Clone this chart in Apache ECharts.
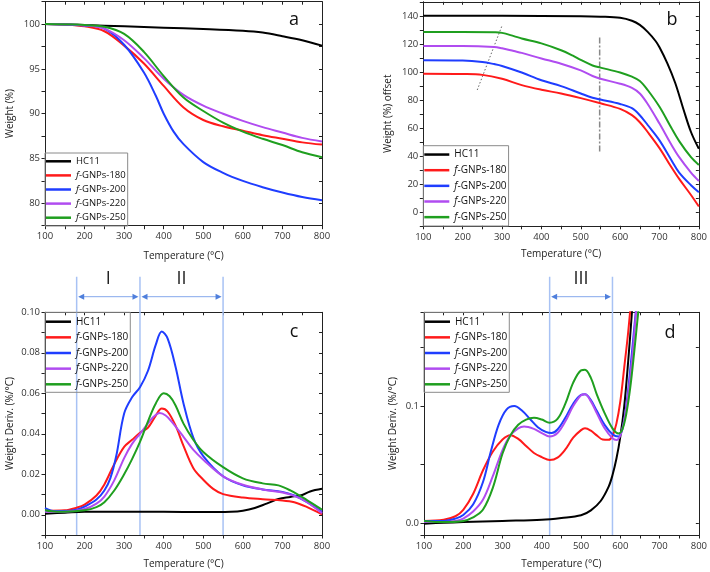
<!DOCTYPE html>
<html>
<head>
<meta charset="utf-8">
<script src="https://cdn.jsdelivr.net/npm/echarts@6/dist/echarts.min.js"></script>
<style>html,body{margin:0;padding:0;background:#fff;}#c{width:710px;height:572px;}</style>
</head>
<body>
<div id="c"></div>
<script>
// ---------- data ----------
const seriesNames = ['HC11', 'f-GNPs-180', 'f-GNPs-200', 'f-GNPs-220', 'f-GNPs-250'];
const panelLetters = ['a', 'b', 'c', 'd'];
const regionLabels = ['I', 'II', 'III'];
const regionBoundsC = [180, 340, 550];
const regionBoundsD = [420, 580];

// panel a: TGA weight (%)
const tgaHC11 = [[100,100],[200,99.9],[300,99.75],[400,99.6],[500,99.45],[600,99.25],[650,99.05],[700,98.65],[750,98.2],[800,97.6]];
const tga180 = [[100,100],[150,99.95],[200,99.75],[250,99.2],[300,97.6],[350,95.6],[400,93.1],[450,90.7],[500,89.3],[550,88.6],[600,88.1],[650,87.6],[700,87.2],[750,86.8],[800,86.55]];
const tga200 = [[100,100],[150,99.95],[200,99.85],[250,99.5],[300,97.7],[350,94.6],[380,92.0],[400,90.0],[425,88.0],[450,86.6],[500,84.6],[550,83.4],[600,82.5],[650,81.8],[700,81.2],[750,80.7],[800,80.35]];
const tga220 = [[100,100],[200,99.85],[250,99.5],[300,98.2],[350,96.2],[400,93.9],[450,92.1],[500,90.9],[550,90.0],[600,89.2],[650,88.5],[700,87.9],[750,87.3],[800,86.9]];
const tga250 = [[100,100],[200,99.9],[250,99.7],[300,98.9],[350,96.9],[400,94.2],[450,91.8],[500,90.3],[550,89.0],[600,88.0],[650,87.2],[700,86.5],[750,85.7],[800,85.15]];

// panel b: weight (%) offset
const offHC11 = [[100,140],[300,140],[500,139.7],[550,139.4],[600,138.6],[630,136.5],[650,133.5],[670,128.5],[690,122],[700,117.5],[720,106],[740,92],[760,74],[780,57],[800,45]];
const off180 = [[100,98.6],[200,98.4],[250,97.8],[300,95],[350,90.5],[400,87.2],[450,84.5],[500,81.2],[550,77.5],[600,73.5],[630,69],[650,64],[670,57],[700,45.5],[730,32],[750,23.5],[780,12],[800,3.8]];
const off200 = [[100,108.2],[200,108],[250,107],[280,105.5],[300,104.2],[350,99.5],[400,94],[450,89.8],[500,84.5],[530,81.5],[550,80.2],[600,77],[630,74],[650,69],[670,62],[700,51],[730,37],[750,28],[780,19],[800,14]];
const off220 = [[100,118.5],[200,118.5],[280,117.8],[300,116.8],[330,114.8],[350,113.5],[400,109.5],[450,105.8],[500,101],[530,97],[550,95],[600,91.5],[630,88.5],[650,84.5],[670,77],[700,63],[730,48],[750,39],[780,28],[800,22]];
const off250 = [[100,128.5],[200,128.5],[280,128.2],[300,127.8],[330,125.5],[350,123.8],[400,120.3],[450,115.4],[480,111.5],[500,108.5],[530,104.5],[550,103],[600,99.5],[630,96.5],[650,93.5],[670,87],[700,75],[730,60],[750,50.5],[780,39],[800,33.5]];
const guideDotted = [[237,87],[300,133]];
const guideDashDot = [[548,43],[548,125]];

// panel c: derivative (%/°C)
const dtgHC11 = [[100,0.0005],[150,0.001],[200,0.0015],[300,0.0015],[400,0.0015],[500,0.0013],[570,0.0015],[600,0.002],[630,0.0033],[660,0.0055],[690,0.0078],[720,0.0088],[750,0.0098],[770,0.0115],[800,0.0128]];
const dtg180 = [[100,0.002],[150,0.0022],[180,0.0035],[200,0.005],[230,0.0095],[250,0.015],[275,0.025],[300,0.0335],[320,0.037],[340,0.0405],[360,0.043],[380,0.049],[395,0.0525],[410,0.051],[430,0.044],[450,0.034],[475,0.023],[500,0.0173],[525,0.0128],[550,0.0102],[600,0.0085],[650,0.0077],[700,0.0071],[730,0.0062],[760,0.004],[800,0.0002]];
const dtg200 = [[100,0.0033],[125,0.0018],[150,0.0018],[180,0.0025],[200,0.004],[230,0.0075],[250,0.012],[265,0.018],[280,0.029],[300,0.05],[320,0.058],[340,0.063],[360,0.071],[380,0.084],[395,0.0905],[410,0.087],[430,0.073],[450,0.055],[475,0.038],[500,0.029],[550,0.019],[600,0.0145],[650,0.0125],[700,0.0113],[730,0.0095],[760,0.0065],[800,0.0015]];
const dtg220 = [[100,0.0015],[150,0.0015],[200,0.0028],[230,0.0055],[250,0.009],[275,0.017],[300,0.028],[320,0.035],[340,0.04],[360,0.045],[375,0.0485],[390,0.0502],[405,0.049],[420,0.046],[450,0.0385],[475,0.032],[500,0.0272],[550,0.019],[600,0.0148],[650,0.0125],[700,0.011],[730,0.0093],[760,0.0065],[800,0.0008]];
const dtg250 = [[100,0.0022],[130,0.0015],[150,0.0015],[200,0.0022],[230,0.0038],[250,0.0062],[275,0.012],[300,0.02],[320,0.0275],[340,0.036],[360,0.046],[380,0.055],[400,0.06],[415,0.0585],[430,0.054],[450,0.045],[475,0.037],[500,0.031],[550,0.0235],[600,0.018],[650,0.0155],[690,0.0145],[720,0.012],[760,0.0075],[800,0.0025]];

// panel d: derivative zoom (%/°C)
const zHC11 = [[100,-0.0003],[150,0.0005],[200,0.001],[300,0.002],[400,0.003],[450,0.0045],[500,0.0068],[525,0.011],[550,0.019],[570,0.031],[580,0.041],[590,0.055],[600,0.074],[610,0.1],[620,0.138],[630,0.182],[640,0.23]];
const z180 = [[100,0.002],[150,0.003],[180,0.006],[200,0.0115],[225,0.025],[250,0.045],[275,0.061],[300,0.0715],[320,0.0752],[340,0.072],[360,0.066],[380,0.06],[400,0.0565],[420,0.054],[440,0.056],[460,0.063],[480,0.073],[500,0.0795],[510,0.081],[525,0.079],[540,0.075],[555,0.0715],[570,0.0712],[580,0.0745],[590,0.085],[600,0.104],[610,0.133],[620,0.163],[630,0.2]];
const z200 = [[100,0.002],[150,0.002],[180,0.004],[200,0.007],[225,0.016],[250,0.035],[270,0.061],[290,0.084],[310,0.097],[330,0.1],[350,0.096],[370,0.089],[390,0.082],[410,0.078],[425,0.077],[440,0.08],[460,0.09],[480,0.102],[500,0.1095],[510,0.11],[525,0.105],[540,0.096],[560,0.084],[580,0.076],[595,0.074],[605,0.08],[615,0.1],[625,0.13],[635,0.165],[645,0.2]];
const z220 = [[100,0.001],[150,0.001],[180,0.002],[200,0.004],[225,0.01],[250,0.02],[275,0.04],[300,0.0625],[320,0.075],[340,0.081],[355,0.0825],[380,0.0805],[400,0.077],[420,0.074],[440,0.077],[460,0.087],[480,0.1],[500,0.1092],[510,0.11],[525,0.104],[540,0.094],[560,0.081],[580,0.0725],[590,0.071],[600,0.075],[610,0.088],[620,0.11],[630,0.14],[640,0.18],[648,0.21]];
const z250 = [[100,0.002],[150,0.001],[200,0.002],[225,0.005],[250,0.0115],[275,0.03],[300,0.0595],[320,0.075],[340,0.084],[360,0.0885],[380,0.09],[400,0.0885],[420,0.0858],[440,0.089],[460,0.102],[480,0.12],[500,0.1305],[510,0.131],[525,0.124],[540,0.11],[560,0.094],[580,0.081],[595,0.0767],[605,0.08],[615,0.093],[625,0.115],[635,0.145],[645,0.178],[655,0.21]];

const panelData = [
  [tgaHC11, tga180, tga200, tga220, tga250],
  [offHC11, off180, off200, off220, off250],
  [dtgHC11, dtg180, dtg200, dtg220, dtg250],
  [zHC11, z180, z200, z220, z250]
];

// ---------- style ----------
const FONT = 'Open Sans';
const colors = ['#000000', '#ff1a1a', '#1f3dff', '#b04cf0', '#1f9f1f'];
const AX = '#222';
const grids = [
  {left: 45, top: 1.7, width: 277, height: 224},
  {left: 423.3, top: 1.8, width: 278.4, height: 224},
  {left: 45, top: 312.3, width: 277, height: 222.7},
  {left: 424, top: 312.3, width: 277.7, height: 222.7}
];
const yNames = ['Weight (%)', 'Weight (%) offset', 'Weight Deriv. (%/°C)', 'Weight Deriv. (%/°C)'];
const yNameGap = [30, 30, 30, 25.5];
const xNameGap = [25, 23, 24, 24];

function near(v, step) { return Math.abs(v / step - Math.round(v / step)) < 1e-6; }
const yAxisSpec = [
  {min: 77.5, max: 102.5, interval: 2.5, fmt: v => near(v, 5) ? String(Math.round(v)) : ''},
  {min: -10, max: 150, interval: 10, fmt: v => near(v, 20) ? String(Math.round(v)) : ''},
  {min: -0.01, max: 0.10, interval: 0.01, fmt: v => near(v, 0.02) ? Math.abs(v).toFixed(2) : ''},
  {min: -0.01, max: 0.18, splitNumber: 4, fmt: v => (near(v, 0.1) && v > -0.005 && v < 0.15) ? Math.abs(v).toFixed(1) : ''}
];

const xAxes = [], yAxes = [], series = [], legends = [];
for (let g = 0; g < 4; g++) {
  xAxes.push({
    type: 'value', gridIndex: g, min: 100, max: 800, interval: 50, position: 'bottom',
    name: 'Temperature (°C)', nameLocation: 'middle', nameGap: xNameGap[g],
    nameTextStyle: {fontFamily: FONT, fontSize: 10, color: '#222'},
    axisLine: {show: true, lineStyle: {color: AX, width: 1}},
    axisTick: {show: true, inside: false, length: 3.5, lineStyle: {color: AX}},
    axisLabel: {fontFamily: FONT, fontSize: 9.5, color: '#333', margin: 6, formatter: v => near(v, 100) ? String(v) : ''},
    splitLine: {show: false}
  });
  const ys = yAxisSpec[g];
  const yBase = {
    type: 'value', gridIndex: g, min: ys.min, max: ys.max, splitLine: {show: false}
  };
  if (ys.interval) yBase.interval = ys.interval; else yBase.splitNumber = ys.splitNumber;
  yAxes.push(Object.assign({}, yBase, {
    position: 'left',
    name: yNames[g], nameLocation: 'middle', nameGap: yNameGap[g], nameRotate: 90,
    nameTextStyle: {fontFamily: FONT, fontSize: 10, color: '#222'},
    axisLine: {show: true, lineStyle: {color: AX, width: 1}},
    axisTick: {show: true, inside: false, length: 3.5, lineStyle: {color: AX}},
    axisLabel: {fontFamily: FONT, fontSize: 9.5, color: '#333', margin: 5, formatter: ys.fmt, showMinLabel: true, showMaxLabel: true}
  }));
}
for (let g = 0; g < 4; g++) {
  xAxes.push({
    type: 'value', gridIndex: g, min: 100, max: 800, interval: 50, position: 'top',
    axisLine: {show: true, onZero: false, lineStyle: {color: AX, width: 1}},
    axisTick: {show: true, inside: true, length: 3, lineStyle: {color: AX}},
    axisLabel: {show: false}, splitLine: {show: false}
  });
  const ys = yAxisSpec[g];
  const yr = {
    type: 'value', gridIndex: g, min: ys.min, max: ys.max, position: 'right',
    axisLine: {show: true, onZero: false, lineStyle: {color: AX, width: 1}},
    axisTick: {show: true, inside: true, length: 3, lineStyle: {color: AX}},
    axisLabel: {show: false}, splitLine: {show: false}
  };
  if (ys.interval) yr.interval = ys.interval; else yr.splitNumber = ys.splitNumber;
  yAxes.push(yr);
}
xAxes.forEach(a => { a.axisLine.onZero = false; });
yAxes.forEach(a => { a.axisLine.onZero = false; });

for (let g = 0; g < 4; g++) {
  for (let s = 0; s < 5; s++) {
    series.push({
      type: 'line', name: seriesNames[s], xAxisIndex: g, yAxisIndex: g,
      data: panelData[g][s], smooth: 0.35, showSymbol: false, symbol: 'none', clip: true,
      lineStyle: {color: colors[s], width: 2}, itemStyle: {color: colors[s]}, z: 3,
      animation: false
    });
  }
}
series.push({
  type: 'line', name: 'guide1', xAxisIndex: 1, yAxisIndex: 1, data: guideDotted, showSymbol: false, symbol: 'none',
  lineStyle: {color: '#666', width: 1, type: [1.5, 2]}, z: 2, animation: false
});
series.push({
  type: 'line', name: 'guide2', xAxisIndex: 1, yAxisIndex: 1, data: guideDashDot, showSymbol: false, symbol: 'none',
  lineStyle: {color: '#888', width: 1.5, type: [6, 2, 2, 2]}, z: 2, animation: false
});

const legendFmt = n => n === 'HC11' ? n : '{i|f}' + n.slice(1);
const legendLayout = [
  {left: 45, top: 153, padding: [1.8, 2, 1.8, 1], itemGap: 1.1, lh: 13, fs: 9.5},
  {left: 423.3, top: 145.7, padding: [1.85, 2, 1.85, 1], itemGap: 1.65, lh: 14, fs: 10},
  {left: 45, top: 312.3, padding: [2.4, 2, 1, 1], itemGap: 1.65, lh: 14, fs: 10},
  {left: 424, top: 312.3, padding: [2.4, 2, 1, 1], itemGap: 1.65, lh: 14, fs: 10}
];
legendLayout.forEach(L => {
  legends.push({
    orient: 'vertical', left: L.left, top: L.top, padding: L.padding, itemGap: L.itemGap,
    itemWidth: 25, itemHeight: 2.5, icon: 'rect', selectedMode: false,
    borderColor: '#8a8a8a', borderWidth: 1, borderRadius: 0,
    data: seriesNames, formatter: legendFmt,
    textStyle: {fontFamily: FONT, fontSize: L.fs, lineHeight: L.lh, color: '#111',
      rich: {i: {fontFamily: FONT, fontSize: L.fs, lineHeight: L.lh, fontStyle: 'italic', color: '#111'}}}
  });
});

const option = {
  animation: false,
  backgroundColor: '#fff',
  grid: grids.map(g => Object.assign({containLabel: false}, g)),
  xAxis: xAxes, yAxis: yAxes, series: series, legend: legends
};

const chart = echarts.init(document.getElementById('c'), null, {renderer: 'canvas'});
chart.setOption(option);

// ---------- annotations positioned through the axes ----------
function px(g, x, y) { return chart.convertToPixel({xAxisIndex: g, yAxisIndex: g}, [x, y]); }
const graphics = [];
const letterPos = [[0, 755, 100.5], [1, 745, 143], [2, 755, 0.093], [3, 745, 0.165]];
// letter positions relative to each panel's corner
const letterPix = [[294, 20], [672, 20], [294, 332], [670, 332.5]];
panelLetters.forEach((t, i) => {
  graphics.push({type: 'text', z: 10, style: {text: t, x: letterPix[i][0], y: letterPix[i][1], fill: '#111',
    font: '18px "' + FONT + '"', textAlign: 'center', textVerticalAlign: 'middle'}});
});

function regionMarks(g, bounds, labels, ymin) {
  const topPix = grids[g].top;
  const lineTop = topPix - 35.6;
  const arrowY = topPix - 15.6;
  const labelY = topPix - 33;
  const xs = bounds.map(b => px(g, b, ymin)[0]);
  const bottom = px(g, bounds[0], ymin)[1];
  xs.forEach(x => {
    graphics.push({type: 'line', z: 1, shape: {x1: x, y1: lineTop, x2: x, y2: bottom},
      style: {stroke: '#a8c2f4', lineWidth: 1.5}});
  });
  for (let i = 0; i < xs.length - 1; i++) {
    const a = xs[i] + 1.5, b = xs[i + 1] - 1.5;
    graphics.push({type: 'line', z: 5, shape: {x1: a + 4, y1: arrowY, x2: b - 4, y2: arrowY},
      style: {stroke: '#86a8ec', lineWidth: 1}});
    graphics.push({type: 'polygon', z: 5, shape: {points: [[a, arrowY], [a + 6, arrowY - 3], [a + 6, arrowY + 3]]},
      style: {fill: '#4f7fdc'}});
    graphics.push({type: 'polygon', z: 5, shape: {points: [[b, arrowY], [b - 6, arrowY - 3], [b - 6, arrowY + 3]]},
      style: {fill: '#4f7fdc'}});
    graphics.push({type: 'text', z: 5, style: {text: labels[i], x: (xs[i] + xs[i + 1]) / 2, y: labelY,
      fill: '#222', font: '18px "' + FONT + '"', textAlign: 'center', textVerticalAlign: 'middle'}});
  }
}
regionMarks(2, regionBoundsC, regionLabels.slice(0, 2), -0.01);
regionMarks(3, regionBoundsD, regionLabels.slice(2), -0.01);

chart.setOption({graphic: graphics});
</script>
</body>
</html>
